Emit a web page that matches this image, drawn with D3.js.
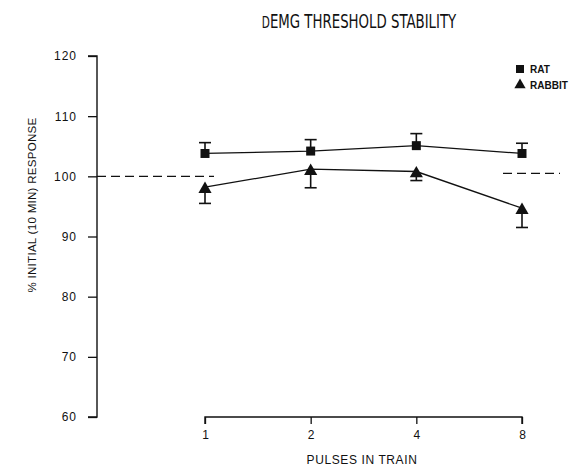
<!DOCTYPE html>
<html lang="en">
<head>
<meta charset="utf-8">
<title>dEMG threshold stability</title>
<script src="https://cdnjs.cloudflare.com/ajax/libs/d3/7.8.5/d3.min.js"></script>
<style>
  body { margin: 0; background: #fff; }
  svg text { font-family: "Liberation Sans", Arial, sans-serif; fill: #111; }
</style>
</head>
<body>
<script>
// data
const pulses = [1, 2, 4, 8];
const pulseLabels = ["1", "2", "4", "8"];
const ratMean = [103.8, 104.2, 105.1, 103.8];
const ratErr = [1.8, 1.9, 2.0, 1.7];
const rabbitMean = [98.2, 101.2, 100.8, 94.7];
const rabbitErr = [2.7, 3.1, 1.5, 3.2];
const yTicks = [60, 70, 80, 90, 100, 110, 120];

const w = 580, h = 467;

const svg = d3.select("body").append("svg")
    .attr("width", w).attr("height", h);

const x = d3.scalePoint().domain(pulses).range([205, 522]);
const y = d3.scaleLinear().domain([60, 120]).range([417, 56]);

// title
const title = svg.append("text")
    .attr("x", 359).attr("y", 28)
    .attr("text-anchor", "middle")
    .style("font-family", "'DejaVu Sans Condensed', 'DejaVu Sans', sans-serif")
    .style("font-size", "19px")
    .style("transform", "scaleX(0.78)")
    .style("transform-origin", "359px 20px");
title.append("tspan").style("font-size", "15px").text("D");
title.append("tspan").text("EMG THRESHOLD STABILITY");

// y axis
const yAxis = d3.axisLeft(y).tickValues(yTicks).tickSize(9).tickPadding(11);
const gy = svg.append("g").attr("transform", "translate(97,0)").call(yAxis);
gy.select(".domain").attr("d", "M-9,56H0V417H-9").attr("stroke", "#111").attr("stroke-width", 1.4);
gy.selectAll(".tick line").attr("stroke", "#111").attr("stroke-width", 1.3);
gy.selectAll("text").style("font-size", "12px").style("letter-spacing", "1px");

// x axis
const xAxis = d3.axisBottom(x).tickFormat((d, i) => pulseLabels[i]).tickSize(7).tickPadding(6);
const gx = svg.append("g").attr("transform", "translate(0,417)").call(xAxis);
gx.select(".domain").attr("d", "M205,7V0H522V7").attr("stroke", "#111").attr("stroke-width", 1.4);
gx.selectAll(".tick line").attr("stroke", "#111").attr("stroke-width", 1.3);
gx.selectAll("text").style("font-size", "12px");

// axis titles
svg.append("text")
    .attr("x", 362).attr("y", 464)
    .attr("text-anchor", "middle")
    .style("font-size", "12px")
    .style("letter-spacing", "0.6px")
    .text("PULSES IN TRAIN");

svg.append("text")
    .attr("transform", "translate(36,205) rotate(-90)")
    .attr("text-anchor", "middle")
    .style("font-size", "11.5px")
    .style("letter-spacing", "0.3px")
    .text("% INITIAL (10 MIN) RESPONSE");

// dashed 100% reference segments
svg.append("line")
    .attr("x1", 97).attr("x2", 214)
    .attr("y1", y(100)).attr("y2", y(100))
    .attr("stroke", "#111").attr("stroke-width", 1.2)
    .attr("stroke-dasharray", "9,5");
svg.append("line")
    .attr("x1", 503).attr("x2", 560)
    .attr("y1", y(100.5)).attr("y2", y(100.5))
    .attr("stroke", "#111").attr("stroke-width", 1.2)
    .attr("stroke-dasharray", "9,5");

const line = d3.line().x((d, i) => x(pulses[i])).y(d => y(d));

// rat: line, upward error bars, squares
svg.append("path").datum(ratMean)
    .attr("d", line).attr("fill", "none").attr("stroke", "#111").attr("stroke-width", 1.3);
const ratG = svg.append("g");
ratMean.forEach((m, i) => {
  const cx = x(pulses[i]);
  ratG.append("line").attr("x1", cx).attr("x2", cx).attr("y1", y(m)).attr("y2", y(m + ratErr[i]))
      .attr("stroke", "#111").attr("stroke-width", 1.6);
  ratG.append("line").attr("x1", cx - 6).attr("x2", cx + 6).attr("y1", y(m + ratErr[i])).attr("y2", y(m + ratErr[i]))
      .attr("stroke", "#111").attr("stroke-width", 1.6);
});
ratG.selectAll("path.sq").data(ratMean).join("path")
    .attr("transform", (d, i) => `translate(${x(pulses[i])},${y(d)})`)
    .attr("d", d3.symbol(d3.symbolSquare, 81))
    .attr("fill", "#111");

// rabbit: line, downward error bars, triangles
svg.append("path").datum(rabbitMean)
    .attr("d", line).attr("fill", "none").attr("stroke", "#111").attr("stroke-width", 1.3);
const rabG = svg.append("g");
rabbitMean.forEach((m, i) => {
  const cx = x(pulses[i]);
  rabG.append("line").attr("x1", cx).attr("x2", cx).attr("y1", y(m)).attr("y2", y(m - rabbitErr[i]))
      .attr("stroke", "#111").attr("stroke-width", 1.6);
  rabG.append("line").attr("x1", cx - 6).attr("x2", cx + 6).attr("y1", y(m - rabbitErr[i])).attr("y2", y(m - rabbitErr[i]))
      .attr("stroke", "#111").attr("stroke-width", 1.6);
});
rabG.selectAll("path.tri").data(rabbitMean).join("path")
    .attr("transform", (d, i) => `translate(${x(pulses[i])},${y(d) + 2})`)
    .attr("d", d3.symbol(d3.symbolTriangle, 75))
    .attr("fill", "#111");

// legend
const legend = svg.append("g");
legend.append("path")
    .attr("transform", "translate(520,69)")
    .attr("d", d3.symbol(d3.symbolSquare, 64)).attr("fill", "#111");
legend.append("text").attr("x", 530).attr("y", 73)
    .style("font-size", "10px").style("font-weight", "bold").text("RAT");
legend.append("path")
    .attr("transform", "translate(520,85)")
    .attr("d", d3.symbol(d3.symbolTriangle, 55)).attr("fill", "#111");
legend.append("text").attr("x", 530).attr("y", 89)
    .style("font-size", "10px").style("font-weight", "bold").text("RABBIT");
</script>
</body>
</html>
